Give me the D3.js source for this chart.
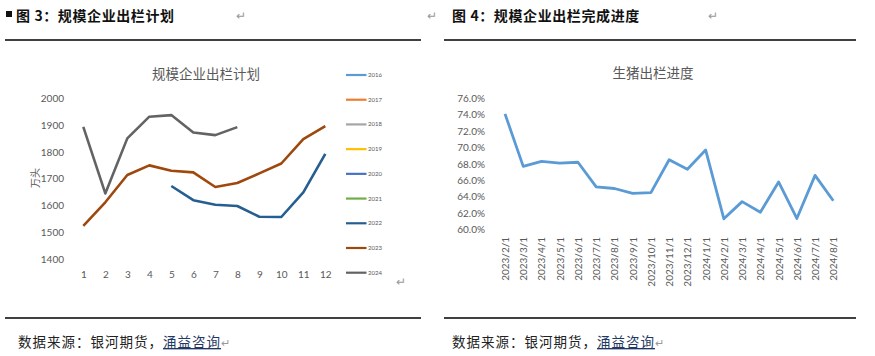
<!DOCTYPE html>
<html><head><meta charset="utf-8">
<script src="https://cdn.jsdelivr.net/npm/d3@7"></script>
<style>
body{margin:0;background:#fff;}
svg{display:block;}
</style></head>
<body>
<script>
// ---- Data ----
const months = [1,2,3,4,5,6,7,8,9,10,11,12];
const leftYTicks = [1400,1500,1600,1700,1800,1900,2000];
const legendYears = ["2016","2017","2018","2019","2020","2021","2022","2023","2024"];
const legendColors = ["#5B9BD5","#ED7D31","#A5A5A5","#FFC000","#4472C4","#70AD47","#255E91","#9E480E","#636363"];
const s2022 = [null,null,null,null,1673,1620,1603,1598,1558,1557,1649,1793];
const s2023 = [1524,1612,1714,1750,1730,1724,1669,1684,1720,1757,1848,1897];
const s2024 = [1894,1645,1851,1932,1938,1873,1863,1893,null,null,null,null];

const dates = ["2023/2/1","2023/3/1","2023/4/1","2023/5/1","2023/6/1","2023/7/1","2023/8/1","2023/9/1","2023/10/1","2023/11/1","2023/12/1","2024/1/1","2024/2/1","2024/3/1","2024/4/1","2024/5/1","2024/6/1","2024/7/1","2024/8/1"];
const progress = [74.1,67.7,68.3,68.1,68.2,65.2,65.0,64.4,64.5,68.5,67.35,69.7,61.3,63.4,62.1,65.8,61.35,66.6,63.5];
const rightYTicks = [60,62,64,66,68,70,72,74,76];

const W=875,H=356;
const svg = d3.select("body").append("svg").attr("width",W).attr("height",H);
const cjk = "'Noto Sans CJK SC', sans-serif";
const lat = "Lato, 'Open Sans', sans-serif";
const gray = "#595959";

// ---- Headers ----
svg.append("rect").attr("x",6).attr("y",11).attr("width",6).attr("height",6).attr("fill","#111");
svg.append("text").attr("x",16).attr("y",21).attr("font-family",cjk).attr("font-size",14).attr("font-weight","bold").attr("letter-spacing",0.6).attr("fill","#111").text("图 3：规模企业出栏计划");
svg.append("text").attr("x",236).attr("y",20).attr("font-family",cjk).attr("font-size",12).attr("fill","#999").text("↵");
svg.append("text").attr("x",427).attr("y",20).attr("font-family",cjk).attr("font-size",12).attr("fill","#999").text("↵");
svg.append("text").attr("x",452).attr("y",21).attr("font-family",cjk).attr("font-size",14).attr("font-weight","bold").attr("letter-spacing",0.6).attr("fill","#111").text("图 4：规模企业出栏完成进度");
svg.append("text").attr("x",708).attr("y",20).attr("font-family",cjk).attr("font-size",12).attr("fill","#999").text("↵");
[[5,421],[444,856]].forEach(([a,b])=>{
  svg.append("line").attr("x1",a).attr("x2",b).attr("y1",40).attr("y2",40).attr("stroke","#000").attr("stroke-width",1.3);
  svg.append("line").attr("x1",a).attr("x2",b).attr("y1",318).attr("y2",318).attr("stroke","#000").attr("stroke-width",1.3);
});
[[18],[452]].forEach(([x])=>{
  const t = svg.append("text").attr("x",x).attr("y",347).attr("font-family",cjk).attr("font-size",13.5).attr("letter-spacing",1).attr("fill","#222");
  t.append("tspan").text("数据来源：银河期货，");
  t.append("tspan").attr("text-decoration","underline").attr("fill","#1F3864").text("涌益咨询");
  t.append("tspan").attr("fill","#999").attr("font-size",11).text("↵");
});

// ---- Left chart ----
const xL = d3.scaleLinear().domain([1,12]).range([83.3,325.3]);
const yL = d3.scaleLinear().domain([1400,2000]).range([259,98.5]);
svg.append("text").attr("x",206).attr("y",79).attr("text-anchor","middle").attr("font-family",cjk).attr("font-size",13.5).attr("fill",gray).text("规模企业出栏计划");
const gyL = svg.append("g").attr("transform","translate(68,0)").call(d3.axisLeft(yL).tickValues(leftYTicks).tickFormat(d3.format("d")).tickSize(0).tickPadding(4));
gyL.select(".domain").remove();
gyL.selectAll("text").attr("font-family",lat).attr("font-size",10).attr("fill",gray);
const gxL = svg.append("g").attr("transform","translate(0,268)").call(d3.axisBottom(xL).tickValues(months).tickFormat(d3.format("d")).tickSize(0).tickPadding(3));
gxL.select(".domain").remove();
gxL.selectAll("text").attr("font-family",lat).attr("font-size",10).attr("fill",gray);
svg.append("text").attr("transform","translate(39,178) rotate(-90)").attr("text-anchor","middle").attr("font-family",cjk).attr("font-size",10).attr("fill",gray).text("万头");

const lineL = d3.line().defined(d=>d[1]!=null).x(d=>xL(d[0])).y(d=>yL(d[1]));
[[s2022,legendColors[6]],[s2023,legendColors[7]],[s2024,legendColors[8]]].forEach(([s,c])=>{
  svg.append("path").datum(months.map((m,i)=>[m,s[i]])).attr("d",lineL).attr("fill","none").attr("stroke",c).attr("stroke-width",2.6).attr("stroke-linejoin","round");
});
const yLeg = d3.scalePoint().domain(legendYears).range([75,272.7]);
legendYears.forEach((y,i)=>{
  svg.append("line").attr("x1",346).attr("x2",366.5).attr("y1",yLeg(y)).attr("y2",yLeg(y)).attr("stroke",legendColors[i]).attr("stroke-width",2.2);
  svg.append("text").attr("x",368).attr("y",yLeg(y)+2).attr("font-family",lat).attr("font-size",6).attr("fill",gray).text(y);
});
svg.append("text").attr("x",396).attr("y",286).attr("font-family",cjk).attr("font-size",12).attr("fill","#999").text("↵");

// ---- Right chart ----
const xR = d3.scalePoint().domain(dates).range([505,833.3]);
const yR = d3.scaleLinear().domain([60,76]).range([229.5,98.3]);
svg.append("text").attr("x",653).attr("y",78).attr("text-anchor","middle").attr("font-family",cjk).attr("font-size",13.5).attr("fill",gray).text("生猪出栏进度");
const gyR = svg.append("g").attr("transform","translate(489,0)").call(d3.axisLeft(yR).tickValues(rightYTicks).tickSize(0).tickPadding(4).tickFormat(d=>d.toFixed(1)+"%"));
gyR.select(".domain").remove();
gyR.selectAll("text").attr("font-family",lat).attr("font-size",10).attr("fill",gray);
const gxR = svg.append("g").attr("transform","translate(0,236)").call(d3.axisBottom(xR).tickSize(0).tickPadding(0));
gxR.select(".domain").remove();
gxR.selectAll("text").attr("font-family",lat).attr("font-size",10).attr("fill",gray)
  .attr("text-anchor","end").attr("dy","0.35em").attr("transform","rotate(-90) translate(-1,0)").attr("y",0).attr("x",0);
const lineR = d3.line().x((d,i)=>xR(dates[i])).y(d=>yR(d));
svg.append("path").datum(progress).attr("d",lineR).attr("fill","none").attr("stroke","#5B9BD5").attr("stroke-width",2.8).attr("stroke-linejoin","round");
</script>
</body></html>
